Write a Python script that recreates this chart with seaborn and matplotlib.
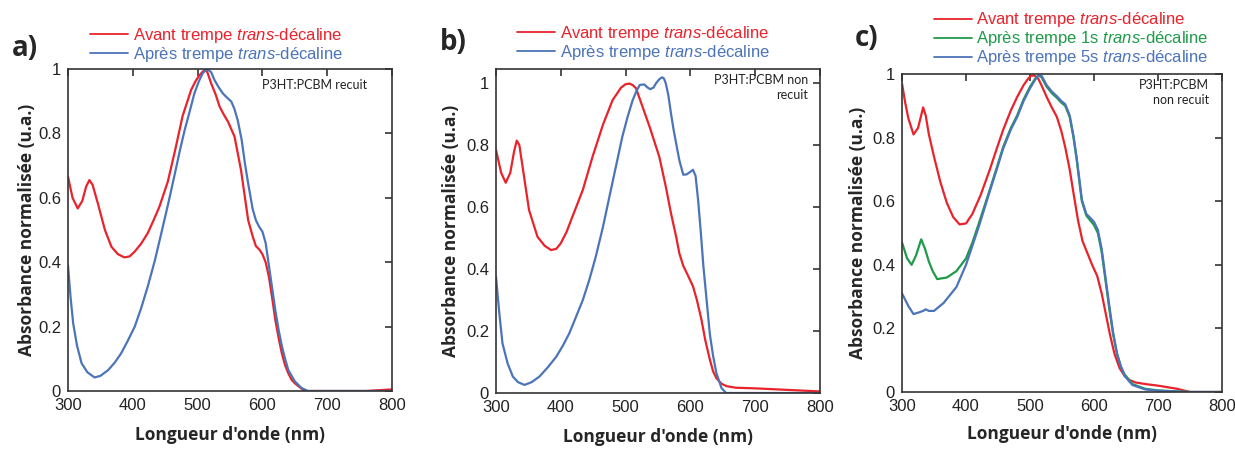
import numpy as np
import pandas as pd
import matplotlib
matplotlib.use("Agg")
import matplotlib.pyplot as plt
import seaborn as sns

# ---------------- data ----------------
a_red_x = [300, 307, 315, 322, 328, 333, 338, 346, 357, 367, 377, 387, 395, 403, 413, 423, 432, 441, 454,
           465, 477, 490, 497, 503, 508, 511, 515, 521, 528, 534, 540, 547, 557, 567, 578, 585, 590, 595,
           600, 605, 610, 615, 620, 625, 630, 635, 640, 645, 650, 660, 665, 700, 760, 800]
a_red_y = [0.666, 0.60, 0.567, 0.59, 0.635, 0.655, 0.64, 0.583, 0.50, 0.448, 0.425, 0.415, 0.418, 0.433,
           0.458, 0.49, 0.53, 0.572, 0.65, 0.745, 0.855, 0.935, 0.963, 0.981, 0.992, 0.997, 0.99, 0.955,
           0.92, 0.883, 0.86, 0.836, 0.79, 0.686, 0.531, 0.48, 0.45, 0.44, 0.425, 0.40, 0.355, 0.29,
           0.22, 0.165, 0.117, 0.08, 0.055, 0.035, 0.024, 0.008, 0.0, 0.0, 0.0, 0.005]
a_blue_x = [300, 304, 308, 314, 321, 330, 341, 350, 362, 372, 382, 392, 403, 413, 423, 434, 444, 455,
            465, 473, 480, 488, 495, 502, 508, 512, 516, 521, 526, 532, 539, 546, 552, 557, 562, 568,
            573, 578, 585, 590, 595, 600, 605, 610, 615, 620, 625, 630, 635, 640, 650, 660, 670, 800]
a_blue_y = [0.39, 0.29, 0.21, 0.14, 0.086, 0.058, 0.042, 0.047, 0.065, 0.088, 0.117, 0.155, 0.20, 0.258,
            0.324, 0.405, 0.49, 0.585, 0.676, 0.75, 0.81, 0.87, 0.924, 0.962, 0.987, 0.996, 0.998,
            0.99, 0.966, 0.945, 0.924, 0.91, 0.899, 0.875, 0.84, 0.78, 0.707, 0.645, 0.565, 0.53,
            0.51, 0.495, 0.46, 0.39, 0.32, 0.25, 0.19, 0.14, 0.10, 0.065, 0.03, 0.01, 0.0, 0.0]

b_red_x = [300, 308, 315, 322, 328, 332, 336, 341, 351, 364, 375, 385, 393, 400, 409, 418, 434, 449, 465,
           480, 493, 500, 506, 511, 516, 526, 537, 552, 562, 570, 578, 583, 589, 596, 604, 610, 617, 623,
           630, 635, 640, 648, 656, 670, 700, 750, 800]
b_red_y = [0.784, 0.71, 0.678, 0.71, 0.78, 0.814, 0.80, 0.73, 0.59, 0.504, 0.475, 0.461, 0.465, 0.483,
           0.52, 0.569, 0.655, 0.762, 0.865, 0.945, 0.985, 0.996, 0.998, 0.993, 0.983, 0.924, 0.859,
           0.762, 0.666, 0.58, 0.504, 0.45, 0.41, 0.38, 0.344, 0.30, 0.237, 0.17, 0.108, 0.07, 0.048,
           0.03, 0.022, 0.017, 0.015, 0.01, 0.005]
b_blue_x = [300, 305, 310, 318, 326, 334, 344, 355, 367, 380, 393, 403, 413, 423, 434, 444, 454, 465,
            475, 485, 495, 503, 511, 517, 522, 529, 534, 538, 543, 547, 552, 556, 559, 562, 566, 570,
            574, 578, 583, 589, 594, 599, 604, 608, 612, 616, 620, 625, 630, 635, 640, 648, 655, 800]
b_blue_y = [0.375, 0.26, 0.16, 0.095, 0.053, 0.035, 0.026, 0.035, 0.053, 0.083, 0.117, 0.152, 0.192,
            0.243, 0.30, 0.365, 0.44, 0.535, 0.633, 0.73, 0.827, 0.89, 0.945, 0.975, 0.994, 0.995,
            0.985, 0.98, 0.985, 0.999, 1.012, 1.018, 1.015, 0.999, 0.96, 0.902, 0.85, 0.805, 0.75,
            0.704, 0.705, 0.712, 0.72, 0.70, 0.62, 0.52, 0.41, 0.30, 0.19, 0.12, 0.065, 0.016, 0.0, 0.0]

c_red_x = [300, 305, 310, 318, 325, 330, 333, 337, 342, 350, 360, 370, 380, 390, 400, 410, 423, 437,
           448, 458, 470, 480, 490, 497, 502, 507, 513, 519, 526, 534, 542, 549, 555, 562, 568, 575,
           582, 590, 597, 605, 612, 618, 625, 632, 640, 648, 655, 665, 680, 700, 730, 750, 800]
c_red_y = [0.97, 0.91, 0.86, 0.81, 0.83, 0.87, 0.895, 0.87, 0.81, 0.74, 0.66, 0.595, 0.55, 0.527, 0.53,
           0.56, 0.62, 0.698, 0.765, 0.824, 0.885, 0.928, 0.965, 0.985, 0.995, 0.995, 0.985, 0.96,
           0.928, 0.895, 0.865, 0.82, 0.77, 0.70, 0.625, 0.54, 0.475, 0.435, 0.40, 0.365, 0.31, 0.25,
           0.18, 0.12, 0.075, 0.05, 0.038, 0.03, 0.025, 0.02, 0.01, 0.0, 0.0]
c_green_x = [300, 308, 315, 322, 330, 336, 342, 348, 355, 370, 385, 400, 410, 420, 437, 448, 458, 470,
             480, 490, 500, 508, 513, 518, 526, 534, 542, 549, 555, 562, 568, 573, 581, 588, 594, 600,
             606, 612, 618, 624, 630, 636, 642, 648, 660, 680, 700, 750, 800]
c_green_y = [0.47, 0.42, 0.40, 0.43, 0.48, 0.45, 0.41, 0.38, 0.355, 0.36, 0.38, 0.42, 0.47, 0.53, 0.635,
             0.705, 0.77, 0.83, 0.87, 0.92, 0.96, 0.985, 0.995, 0.99, 0.96, 0.94, 0.925, 0.91, 0.90,
             0.865, 0.80, 0.73, 0.60, 0.555, 0.54, 0.525, 0.50, 0.44, 0.35, 0.26, 0.18, 0.12, 0.08,
             0.055, 0.025, 0.01, 0.005, 0.0, 0.0]
c_blue_x = [300, 310, 318, 326, 333, 337, 342, 350, 365, 385, 400, 410, 420, 437, 448, 458, 470, 480,
            490, 500, 508, 513, 518, 526, 534, 542, 549, 555, 562, 568, 573, 581, 588, 594, 600, 606,
            612, 618, 624, 630, 636, 642, 648, 660, 680, 700, 750, 800]
c_blue_y = [0.31, 0.27, 0.245, 0.25, 0.255, 0.26, 0.255, 0.255, 0.28, 0.33, 0.40, 0.46, 0.52, 0.63,
            0.70, 0.765, 0.825, 0.865, 0.915, 0.955, 0.982, 0.995, 0.995, 0.965, 0.945, 0.93, 0.915,
            0.905, 0.87, 0.805, 0.735, 0.605, 0.56, 0.548, 0.535, 0.51, 0.45, 0.36, 0.27, 0.185,
            0.12, 0.08, 0.05, 0.022, 0.008, 0.004, 0.0, 0.0]

lbl_avant = "Avant trempe $\\it{trans}$-décaline"
lbl_apres = "Après trempe $\\it{trans}$-décaline"
lbl_1s = "Après trempe 1s $\\it{trans}$-décaline"
lbl_5s = "Après trempe 5s $\\it{trans}$-décaline"
y_ticks = [0, 0.2, 0.4, 0.6, 0.8, 1]
y_ticklabels = ["0", "0.2", "0.4", "0.6", "0.8", "1"]
x_ticks = [300, 400, 500, 600, 700, 800]
panel_names = ["a)", "b)", "c)"]
notes = ["P3HT:PCBM recuit", "P3HT:PCBM non\nrecuit", "P3HT:PCBM\nnon recuit"]

# ---------------- style ----------------
sns.set_theme(style="white")
plt.rcParams["font.family"] = ["Liberation Sans", "DejaVu Sans"]
plt.rcParams["mathtext.fontset"] = "custom"
plt.rcParams["mathtext.rm"] = "Liberation Sans"
plt.rcParams["mathtext.it"] = "Liberation Sans:italic"

RED = "#E8232B"
BLUE = "#4C74B8"
GREEN = "#1F9A4A"

fig = plt.figure(figsize=(12.35, 4.5), dpi=100)
W, H = 1235, 450

def ax_at(l, t, r, b):
    return fig.add_axes([l / W, 1 - b / H, (r - l) / W, (b - t) / H])

axA = ax_at(68, 69, 392, 391)
axB = ax_at(496, 69, 820, 393)
axC = ax_at(902, 74, 1222, 392)

series = {
    axA: [(a_red_x, a_red_y, RED, lbl_avant), (a_blue_x, a_blue_y, BLUE, lbl_apres)],
    axB: [(b_red_x, b_red_y, RED, lbl_avant), (b_blue_x, b_blue_y, BLUE, lbl_apres)],
    axC: [(c_red_x, c_red_y, RED, lbl_avant), (c_green_x, c_green_y, GREEN, lbl_1s),
          (c_blue_x, c_blue_y, BLUE, lbl_5s)],
}
ylims = {axA: (0, 1.0), axB: (0, 1.045), axC: (0, 1.0)}

for ax, ser in series.items():
    for xs, ys, col, lab in ser:
        df = pd.DataFrame({"x": xs, "y": ys})
        sns.lineplot(data=df, x="x", y="y", ax=ax, color=col, label=lab,
                     linewidth=1.6, sort=False, estimator=None)
    ax.set_xlim(300, 800)
    ax.set_ylim(*ylims[ax])
    ax.set_xticks(x_ticks)
    ax.set_yticks(y_ticks)
    ax.set_yticklabels(y_ticklabels)
    ax.tick_params(direction="in", length=5, width=1.1, top=True, right=True,
                   labelsize=12, colors="#222222", pad=5)
    for sp in ax.spines.values():
        sp.set_color("#333333")
        sp.set_linewidth(1.2)
    ax.set_xlabel("Longueur d'onde (nm)", fontsize=12.5, fontweight="bold",
                  family=["Open Sans", "DejaVu Sans"])
    ax.set_ylabel("Absorbance normalisée (u.a.)", fontsize=12.5, fontweight="bold",
                  family=["Open Sans", "DejaVu Sans"])

axA.xaxis.set_label_coords(0.5, -0.109)
axB.xaxis.set_label_coords(0.5, -0.108)
axC.xaxis.set_label_coords(0.5, -0.104)
axA.yaxis.set_label_coords(-0.10, 0.5)
axB.yaxis.set_label_coords(-0.11, 0.5)
axC.yaxis.set_label_coords(-0.11, 0.5)

# legends above axes
leg_pos = {axA: (0.068, 1.133), axB: (0.065, 1.138), axC: (0.10, 1.20)}
for ax, (lx, ly) in leg_pos.items():
    leg = ax.legend(loc="upper left", bbox_to_anchor=(lx, ly), frameon=False,
                    fontsize=12, handlelength=2.3, handletextpad=0.25,
                    labelspacing=0.0, borderpad=0, borderaxespad=0,
                    labelcolor="linecolor")
    for line in leg.get_lines():
        line.set_linewidth(1.3)

# annotations
axA.text(0.923, 0.95, notes[0], transform=axA.transAxes, ha="right", va="center",
         fontsize=9, family=["Lato", "DejaVu Sans"], color="#222222")
axB.text(0.963, 0.985, notes[1], transform=axB.transAxes, ha="right", va="top",
         multialignment="right", fontsize=9, family=["Lato", "DejaVu Sans"],
         color="#222222", linespacing=1.3)
axC.text(0.96, 0.985, notes[2], transform=axC.transAxes, ha="right", va="top",
         multialignment="right", fontsize=9, family=["Lato", "DejaVu Sans"],
         color="#222222", linespacing=1.3)

# panel labels
for (px, py), name in zip([(12, 48), (440, 42), (855, 38)], panel_names):
    fig.text(px / W, 1 - py / H, name, fontsize=20, fontweight="bold",
             family=["Open Sans", "DejaVu Sans"], va="center", ha="left")

fig.savefig("out.png", dpi=100)
